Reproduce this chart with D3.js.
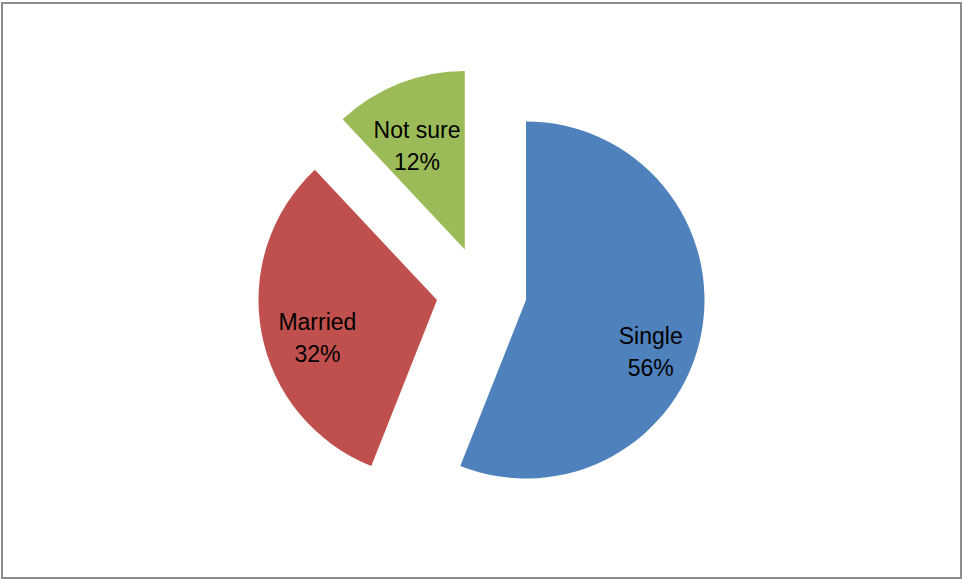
<!DOCTYPE html>
<html>
<head>
<meta charset="utf-8">
<script src="https://cdn.jsdelivr.net/npm/d3@7"></script>
<style>
  html, body { margin: 0; padding: 0; background: #fff; }
  svg { display: block; }
</style>
</head>
<body>
<svg id="chart" width="962" height="579"></svg>
<script>
// ---- data ----
const categories = ["Single", "Married", "Not sure"];
const values = [56, 32, 12];
const percentLabels = ["56%", "32%", "12%"];
const colors = ["#4F81BD", "#C0504D", "#9BBB59"];

// ---- layout ----
const W = 962, H = 579;
const center = { x: 481.5, y: 291.5 };
const radius = 178.5;
const explode = 45.3;
// label placement (angle offset in degrees from slice mid-angle, radius fraction)
const labelLayout = [
  { da: 11.8, rf: 0.757 },
  { da: -6.8, rf: 0.703 },
  { da: -3.1, rf: 0.641 }
];
const fontSize = 23, lineH = 32, capH = 0.716 * fontSize;

const svg = d3.select("#chart");

svg.append("rect")
  .attr("x", 2).attr("y", 3)
  .attr("width", W - 3).attr("height", H - 4)
  .attr("fill", "#fff")
  .attr("stroke", "#8c8c8c")
  .attr("stroke-width", 2);

const pie = d3.pie().sort(null).value(d => d).startAngle(0).endAngle(2 * Math.PI);
const arcs = pie(values);
const arc = d3.arc().innerRadius(0).outerRadius(radius);

const g = svg.append("g");

arcs.forEach((a, i) => {
  const mid = (a.startAngle + a.endAngle) / 2;
  const cx = center.x + explode * Math.sin(mid);
  const cy = center.y - explode * Math.cos(mid);
  const sg = g.append("g").attr("transform", `translate(${cx},${cy})`);
  sg.append("path")
    .attr("d", arc(a))
    .attr("fill", colors[i]);

  const L = labelLayout[i];
  const la = mid + L.da * Math.PI / 180;
  const lx = L.rf * radius * Math.sin(la);
  const ly = -L.rf * radius * Math.cos(la);
  const blockH = capH + lineH;
  const t = sg.append("text")
    .attr("text-anchor", "middle")
    .attr("font-family", "'Liberation Sans', Arial, sans-serif")
    .attr("font-size", fontSize)
    .attr("fill", "#000");
  t.append("tspan").attr("x", lx).attr("y", ly - blockH / 2 + capH).text(categories[i]);
  t.append("tspan").attr("x", lx).attr("y", ly - blockH / 2 + capH + lineH).text(percentLabels[i]);
});
</script>
</body>
</html>
